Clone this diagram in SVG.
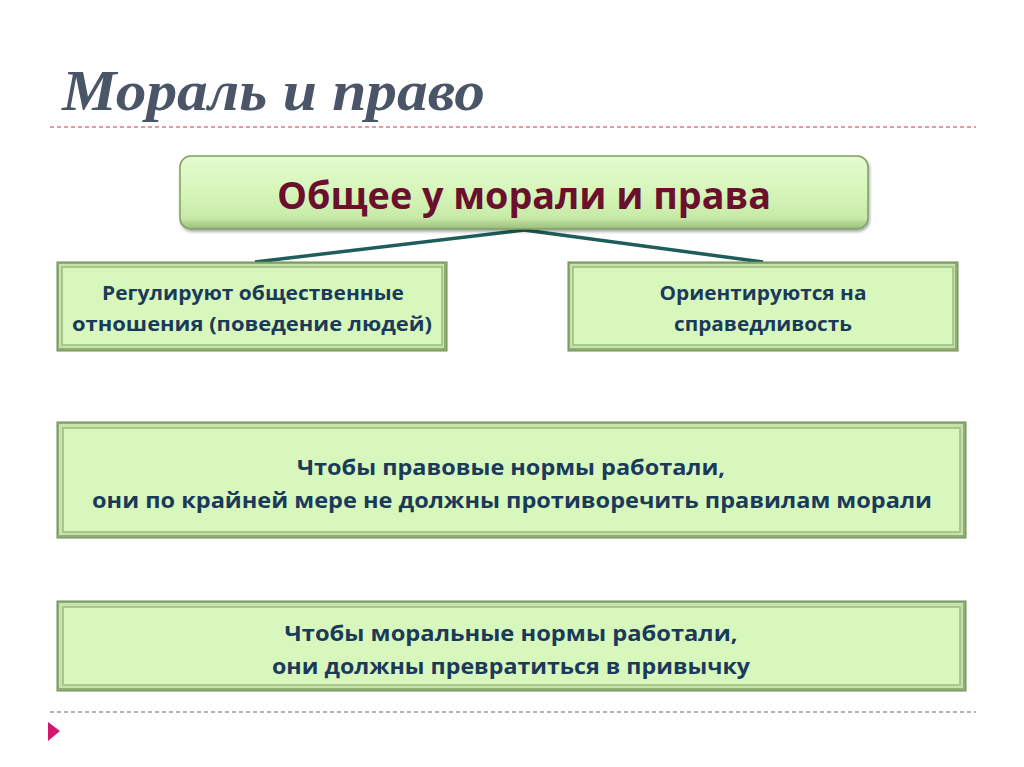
<svg xmlns="http://www.w3.org/2000/svg" width="1024" height="767" viewBox="0 0 1024 767">
<defs>
<linearGradient id="topg" x1="0" y1="0" x2="0" y2="1">
<stop offset="0" stop-color="#E4FACF"/>
<stop offset="0.5" stop-color="#D6F6B9"/>
<stop offset="0.85" stop-color="#C8EAA8"/>
<stop offset="1" stop-color="#98BA7C"/>
</linearGradient>
<filter id="sh" x="-5%" y="-20%" width="110%" height="140%">
<feDropShadow dx="1" dy="2" stdDeviation="1.5" flood-color="#000" flood-opacity="0.35"/>
</filter>
<style>
.frame{fill:#8FAE72;stroke:#6E8C58;stroke-width:1}
.bevL{fill:#C7E3AC}
.inner{fill:#D8F7BC;stroke:#9CBB80;stroke-width:1.5}
.txt{font-family:"Open Sans","Liberation Sans",sans-serif;font-weight:bold;fill:#1B3A5A;text-anchor:middle}
.dash{stroke-width:1.3;stroke-dasharray:4 3;fill:none}
.conn{stroke:#1E5E5A;stroke-width:3.5;fill:none}
</style>
</defs>
<rect width="1024" height="767" fill="#FFFFFF"/>
<text x="62" y="110" font-family="'Liberation Serif','DejaVu Serif',serif" font-style="italic" font-weight="bold" font-size="58" fill="#4A5568" textLength="423" lengthAdjust="spacingAndGlyphs">Мораль и право</text>
<line class="dash" x1="50" y1="127" x2="976" y2="127" stroke="#D77B8C"/>
<line class="dash" x1="50" y1="712" x2="976" y2="712" stroke="#A8949A"/>
<polygon points="48,722 60,731 48,741" fill="#D4166E"/>
<g id="connectors">
<line class="conn" x1="524" y1="230" x2="255" y2="262"/>
<line class="conn" x1="524" y1="230" x2="763" y2="262"/>
</g>
<g id="top-node">
<rect x="180" y="156" width="688" height="73" rx="11" fill="url(#topg)" stroke="#7FA064" stroke-width="1.5" filter="url(#sh)"/>
<text x="524" y="209" font-family="'Open Sans','Liberation Sans',sans-serif" font-weight="bold" font-size="37" fill="#6B0F2E" text-anchor="middle" textLength="494" lengthAdjust="spacingAndGlyphs">Общее у морали и права</text>
</g>
<g id="left-node">
<rect class="frame" x="57" y="262" width="390" height="89"/>
<rect class="bevL" x="59" y="264" width="385" height="84"/>
<rect class="inner" x="62" y="267" width="380" height="78"/>
<text class="txt" x="253" y="300" font-size="20" textLength="302" lengthAdjust="spacingAndGlyphs">Регулируют общественные</text>
<text class="txt" x="252" y="331" font-size="20" textLength="360" lengthAdjust="spacingAndGlyphs">отношения (поведение людей)</text>
</g>
<g id="right-node">
<rect class="frame" x="568" y="262" width="390" height="89"/>
<rect class="bevL" x="570" y="264" width="385" height="84"/>
<rect class="inner" x="573" y="267" width="380" height="78"/>
<text class="txt" x="763" y="300" font-size="20" textLength="207" lengthAdjust="spacingAndGlyphs">Ориентируются на</text>
<text class="txt" x="763" y="331" font-size="20" textLength="178" lengthAdjust="spacingAndGlyphs">справедливость</text>
</g>
<g id="law-node">
<rect class="frame" x="57" y="422" width="909" height="116"/>
<rect class="bevL" x="59" y="424" width="904" height="111"/>
<rect class="inner" x="63" y="428" width="897" height="104"/>
<text class="txt" x="511" y="475" font-size="22" textLength="428" lengthAdjust="spacingAndGlyphs">Чтобы правовые нормы работали,</text>
<text class="txt" x="512" y="508" font-size="22" textLength="840" lengthAdjust="spacingAndGlyphs">они по крайней мере не должны противоречить правилам морали</text>
</g>
<g id="moral-node">
<rect class="frame" x="57" y="601" width="909" height="90"/>
<rect class="bevL" x="59" y="603" width="904" height="85"/>
<rect class="inner" x="63" y="607" width="897" height="78"/>
<text class="txt" x="511" y="641" font-size="22" textLength="453" lengthAdjust="spacingAndGlyphs">Чтобы моральные нормы работали,</text>
<text class="txt" x="511" y="674" font-size="22" textLength="478" lengthAdjust="spacingAndGlyphs">они должны превратиться в привычку</text>
</g>
</svg>
